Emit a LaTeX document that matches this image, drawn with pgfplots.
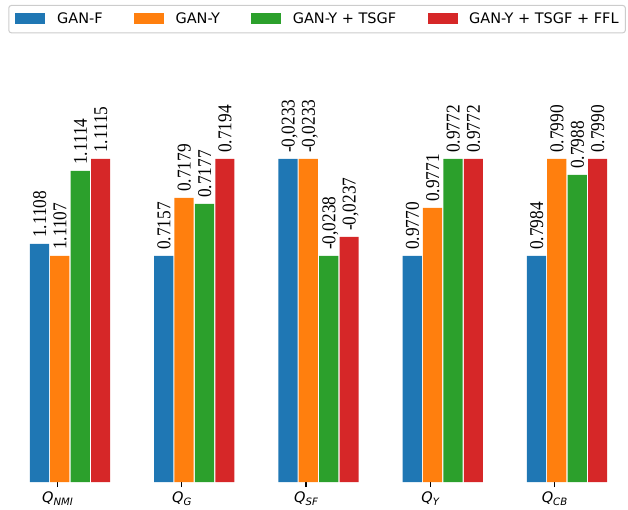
\documentclass[border=0pt]{standalone}
\usepackage{fontspec}
\setmainfont{Liberation Serif}
\newfontfamily\dejavu{DejaVu Sans}
\newfontfamily\timesf{Liberation Serif}
\usepackage{pgfplots}
\pgfplotsset{compat=1.18}
\usepackage{pgfplotstable}

\definecolor{cblue}{HTML}{1F77B4}
\definecolor{corange}{HTML}{FF7F0E}
\definecolor{cgreen}{HTML}{2CA02C}
\definecolor{cred}{HTML}{D62728}
\definecolor{lgray}{gray}{0.8}

% bar heights are the drawn (normalised) heights; labels are the printed values
\pgfplotstableread{
x y lab
39.5 238 1.1108
163.75 226 0.7157
288 323 -0,0233
412.25 226 0.9770
536.5 226 0.7984
}\tabF
\pgfplotstableread{
x y lab
59.8 226 1.1107
184.05 284 0.7179
308.3 323 -0,0233
432.55 274 0.9771
556.8 323 0.7990
}\tabY
\pgfplotstableread{
x y lab
80.3 311 1.1114
204.55 278 0.7177
328.8 226 -0,0238
453.05 323 0.9772
577.3 307 0.7988
}\tabT
\pgfplotstableread{
x y lab
100.6 323 1.1115
224.85 323 0.7194
349.1 245 -0,0237
473.35 323 0.9772
597.6 323 0.7990
}\tabL

\pgfplotsset{
  mybar/.style={
    ybar, bar width=19.2bp, bar shift=0pt, draw=none, fill=#1,
    nodes near coords={\timesf\fontsize{17.3bp}{20bp}\selectfont\pgfplotspointmeta},
    nodes near coords style={rotate=90, yscale=1.13, anchor=west, black,
      inner xsep=6bp, inner ysep=0pt, text height=11.7bp, text depth=0pt},
    legend image code/.code={\fill[##1, sharp corners] (0bp,-5.35bp) rectangle (30bp,5.95bp);},
  }
}

\newcommand{\qlab}[1]{{\itshape Q\raisebox{-2.5bp}{\fontsize{10.15bp}{12bp}\selectfont #1}}}

\begin{document}
\begin{tikzpicture}
\useasboundingbox (0bp,-28bp) rectangle (628bp,482bp);
\begin{axis}[
  at={(0bp,0bp)}, anchor=south west,
  width=628bp, height=482bp, scale only axis,
  xmin=0, xmax=628, ymin=0, ymax=482,
  axis x line=bottom, axis y line=none,
  x axis line style={draw=none},
  xtick={57.5,181.75,306,430.25,554.5},
  xticklabels={{\qlab{NMI}},{\qlab{G}},{\qlab{SF}},{\qlab{Y}},{\qlab{CB}}},
  tick align=outside, major tick length=5bp,
  xtick style={black, line width=1.1bp},
  xticklabel style={font=\dejavu\fontsize{14.5bp}{17bp}\selectfont, anchor=north, inner sep=0pt, yshift=-5bp},
  ytick=\empty,
  clip=false,
  point meta=explicit symbolic,
  legend columns=4,
  legend cell align=left,
  legend style={
    at={(0.013217,0.989627)}, anchor=north west,
    draw=lgray, line width=1bp, rounded corners=2.5bp, fill=white,
    inner xsep=6.7bp, inner ysep=7.7bp,
    column sep=0pt,
    /tikz/every odd column/.append style={column sep=11.6bp},
    /tikz/every even column/.append style={column sep=31.3bp},
    nodes={inner sep=0pt, text height=10.6bp, text depth=1.3bp, anchor=west},
    font=\dejavu\fontsize{14.5bp}{17bp}\selectfont,
  },
]
\addplot[mybar=cblue] table[x=x, y=y, meta=lab]{\tabF};
\addlegendentry{GAN-F}
\addplot[mybar=corange] table[x=x, y=y, meta=lab]{\tabY};
\addlegendentry{GAN-Y}
\addplot[mybar=cgreen] table[x=x, y=y, meta=lab]{\tabT};
\addlegendentry{GAN-Y + TSGF}
\addplot[mybar=cred] table[x=x, y=y, meta=lab]{\tabL};
\addlegendentry{GAN-Y + TSGF + FFL}
\end{axis}
\end{tikzpicture}
\end{document}
